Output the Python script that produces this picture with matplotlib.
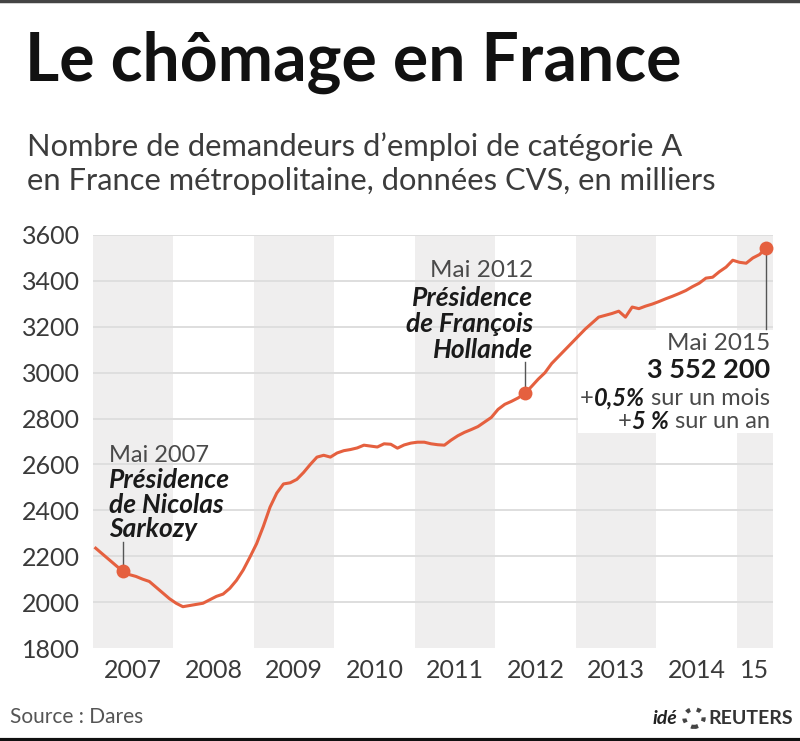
import numpy as np
import matplotlib.pyplot as plt
from matplotlib.patches import Rectangle

# demandeurs d'emploi cat. A, France métropolitaine, CVS, en milliers (lecture du graphique)
chomage_2007 = [2235, 2210, 2185, 2160, 2135, 2120, 2112, 2100, 2090, 2065, 2040, 2015]
chomage_2008 = [1995, 1980, 1985, 1990, 1995, 2010, 2025, 2035, 2060, 2095, 2140, 2196]
chomage_2009 = [2255, 2330, 2414, 2475, 2515, 2520, 2535, 2565, 2600, 2632, 2640, 2632]
chomage_2010 = [2650, 2660, 2665, 2672, 2684, 2680, 2676, 2690, 2688, 2671, 2685, 2693]
chomage_2011 = [2697, 2697, 2690, 2686, 2684, 2706, 2725, 2740, 2752, 2765, 2785, 2805]
chomage_2012 = [2840, 2862, 2875, 2890, 2910, 2940, 2972, 3000, 3040, 3070, 3100, 3130]
chomage_2013 = [3160, 3190, 3216, 3242, 3250, 3258, 3268, 3242, 3286, 3279, 3290, 3299]
chomage_2014 = [3310, 3322, 3333, 3345, 3358, 3375, 3390, 3412, 3416, 3440, 3460, 3490]
chomage_2015 = [3481, 3477, 3500, 3515, 3545]

annees = [2007, 2008, 2009, 2010, 2011, 2012, 2013, 2014, 2015]
etiquettes_annees = ['2007', '2008', '2009', '2010', '2011', '2012', '2013', '2014', '15']
graduations_y = [1800, 2000, 2200, 2400, 2600, 2800, 3000, 3200, 3400, 3600]

valeurs = np.array(chomage_2007 + chomage_2008 + chomage_2009 + chomage_2010 + chomage_2011
                   + chomage_2012 + chomage_2013 + chomage_2014 + chomage_2015)
dates = 2007 + (np.arange(len(valeurs)) + 0.4) / 12

# index des points "Mai"
i_2007, i_2012, i_2015 = 4, 64, len(valeurs) - 1

rouge = '#e5603f'
gris_texte = '#4a4a4a'
police = 'Lato'

plt.rcParams['font.family'] = [police, 'DejaVu Sans']

fig = plt.figure(figsize=(8, 7.41), dpi=100)
ax = fig.add_axes([93 / 800, 93 / 741, 680 / 800, 413 / 741])

x_fin = 2015.45
ax.set_xlim(2007, x_fin)
ax.set_ylim(1800, 3600)

# bandes grises une année sur deux
for a in annees[::2]:
    ax.axvspan(a, min(a + 1, x_fin), color='#efeeee', lw=0, zorder=0)

for g in graduations_y[1:]:
    ax.axhline(g, color='#dedede', lw=1.4, zorder=1)

ax.plot(dates, valeurs, color=rouge, lw=2.2, zorder=4, solid_joinstyle='round')
for i in [i_2007, i_2012, i_2015]:
    ax.plot(dates[i], valeurs[i], 'o', color=rouge, ms=10, zorder=5, mec='none')

for s in ax.spines.values():
    s.set_visible(False)
ax.set_xticks([a + 0.5 for a in annees[:-1]] + [2015.22])
ax.set_xticklabels(etiquettes_annees)
ax.set_yticks(graduations_y)
ax.set_yticklabels([str(g) for g in graduations_y])
ax.tick_params(length=0, labelsize=18, colors='#3a3a3a')
ax.tick_params(axis='y', pad=9.5)
ax.tick_params(axis='x', pad=8)

# Mai 2007
ax.plot([dates[i_2007]] * 2, [valeurs[i_2007], 2262], color='#555555', lw=1, zorder=3)
ax.text(2007.2, 2641, 'Mai 2007', fontsize=17, color=gris_texte, va='center', ha='left', zorder=6)
for txt, yy in [('Présidence', 2532), ('de Nicolas', 2423), ('Sarkozy', 2318)]:
    ax.text(2007.2, yy, txt, fontsize=19, fontweight='bold', style='italic', color='#1a1a1a',
            va='center', ha='left', zorder=6)

# Mai 2012
ax.plot([dates[i_2012]] * 2, [valeurs[i_2012], 3046], color='#555555', lw=1, zorder=3)
ax.text(2012.47, 3447, 'Mai 2012', fontsize=17.5, color=gris_texte, va='center', ha='right', zorder=6)
for txt, yy in [('Présidence', 3325), ('de François', 3212), ('Hollande', 3098)]:
    ax.text(2012.47, yy, txt, fontsize=19, fontweight='bold', style='italic', color='#1a1a1a',
            va='center', ha='right', zorder=6)

# Mai 2015
ax.add_patch(Rectangle((2013.03, 2737), x_fin - 2013.03, 3185 - 2737, color='white', lw=0, zorder=2))
ax.plot([dates[i_2015]] * 2, [valeurs[i_2015], 3190], color='#555555', lw=1, zorder=3)
xd = 2015.41
ax.text(xd, 3129, 'Mai 2015', fontsize=17.5, color=gris_texte, va='center', ha='right', zorder=6)
ax.text(xd, 3011, '3 552 200', fontsize=19.5, fontweight='bold', color='#1a1a1a', va='center', ha='right', zorder=6)
for fin, chiffre, yy in [(' sur un mois', '0,5%', 2889), (' sur un an', '5 %', 2785)]:
    t1 = ax.text(xd, yy, fin, fontsize=17, color=gris_texte, va='center', ha='right', zorder=6)
    t2 = ax.annotate(chiffre, xy=(0, 0.5), xycoords=t1, fontsize=17, fontweight='bold', style='italic',
                     color='#1a1a1a', va='center', ha='right', zorder=6)
    ax.annotate('+', xy=(0, 0.5), xycoords=t2, fontsize=17, color=gris_texte, va='center', ha='right', zorder=6)

# titres
fig.text(25 / 800, 1 - 62 / 741, 'Le chômage en France', fontsize=47.5, fontweight='bold', color='#111111',
         va='center', ha='left')
fig.text(27 / 800, 1 - 147 / 741, 'Nombre de demandeurs d’emploi de catégorie A', fontsize=22.2,
         color='#3c3c3c', va='center', ha='left')
fig.text(27 / 800, 1 - 181 / 741, 'en France métropolitaine, données CVS, en milliers', fontsize=22.2,
         color='#3c3c3c', va='center', ha='left')

fig.text(10 / 800, 1 - 717 / 741, 'Source : Dares', fontsize=15, color='#555555', va='center', ha='left')
fig.text(677 / 800, 1 - 718 / 741, 'idé', fontsize=14, fontweight='bold', style='italic', color='#222222',
         va='center', ha='right')
fig.patches.append(plt.Circle((694 / 800, 1 - 718 / 741), 0.012, transform=fig.transFigure,
                              facecolor='white', edgecolor='#444444', lw=3, ls=':'))
fig.text(708 / 800, 1 - 718 / 741, 'REUTERS', fontsize=14, fontweight='bold', color='#333333',
         va='center', ha='left')

# filets haut et bas
fig.add_artist(plt.Line2D([0, 1], [1 - 1 / 741, 1 - 1 / 741], color='#444444', lw=2.5))
fig.add_artist(plt.Line2D([0, 1], [1.5 / 741, 1.5 / 741], color='#111111', lw=3))

fig.savefig('out.png', dpi=100, facecolor='white')
